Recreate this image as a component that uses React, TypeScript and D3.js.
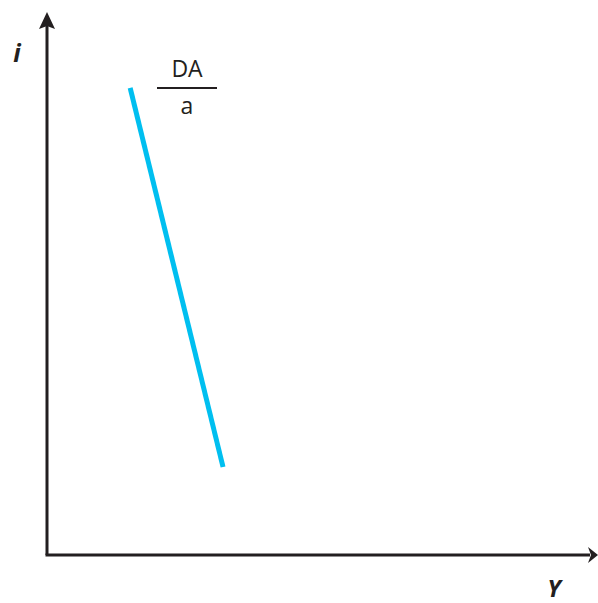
import React from "react";
import * as d3 from "d3";

const W = 598;
const H = 603;

// Curve DA/a in model units (Y, i)
const daY = [1.54, 3.26];
const daI = [8.65, 1.63];

const labelLines = ["DA", "a"];
const axisLabels = { x: "Y", y: "i" };

export default function App() {
  const x = d3.scaleLinear().domain([0, 10]).range([47, 587]);
  const y = d3.scaleLinear().domain([0, 10]).range([555, 15]);
  const pts: [number, number][] = daY.map((v, k) => [v, daI[k]]);
  const line = d3
    .line<[number, number]>()
    .x((d) => x(d[0]))
    .y((d) => y(d[1]));

  const x0 = x(0);
  const y0 = y(0);
  const lblX = 187;
  const font = "'Open Sans', Lato, sans-serif";

  return (
    <svg
      width={W}
      height={H}
      style={{ position: "absolute", left: 0, top: 0, background: "#fff" }}
    >
      {/* axes */}
      <line x1={x0} y1={y0} x2={x0} y2={26} stroke="#231f20" strokeWidth={3} />
      <line x1={x0 - 1.5} y1={y0} x2={590} y2={y0} stroke="#231f20" strokeWidth={3} />
      <path d={`M${x0},12 L${x0 + 8},29 L${x0},26 L${x0 - 8},29 Z`} fill="#231f20" />
      <path d={`M598,${y0} L588,${y0 - 8} L591,${y0} L588,${y0 + 8} Z`} fill="#231f20" />

      {/* DA curve */}
      <path d={line(pts) || ""} stroke="#00bff0" strokeWidth={5} fill="none" />

      {/* label */}
      <text x={lblX} y={77} textAnchor="middle" fontFamily={font} fontSize={23} fill="#231f20">
        {labelLines[0]}
      </text>
      <line x1={157} x2={217} y1={88} y2={88} stroke="#231f20" strokeWidth={2} />
      <text x={lblX} y={114} textAnchor="middle" fontFamily={font} fontSize={23} fill="#231f20">
        {labelLines[1]}
      </text>

      {/* axis labels */}
      <text x={17} y={62} textAnchor="middle" fontFamily={font} fontSize={25} fontWeight="bold" fontStyle="italic" fill="#231f20">
        {axisLabels.y}
      </text>
      <text x={554} y={597} textAnchor="middle" fontFamily={font} fontSize={24} fontWeight="bold" fontStyle="italic" fill="#231f20">
        {axisLabels.x}
      </text>
    </svg>
  );
}
